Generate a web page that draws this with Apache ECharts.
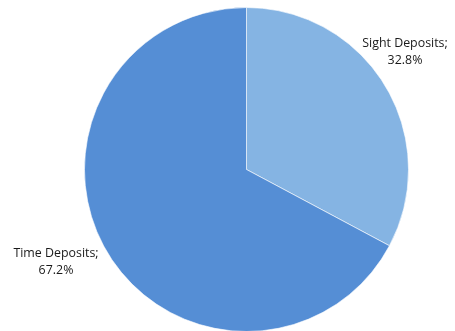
<!DOCTYPE html>
<html><head><meta charset="utf-8">
<script src="https://cdn.jsdelivr.net/npm/echarts@6/dist/echarts.min.js"></script>
<style>html,body{margin:0;padding:0;background:#fff}#c{width:455px;height:331px}</style>
</head><body><div id="c"></div>
<script>
var categories = ['Sight Deposits', 'Time Deposits'];
var values = [32.8, 67.2];
var colors = ['#85B4E3', '#558ED5'];
var labelPos = [[405, 52], [56, 262]];

var chart = echarts.init(document.getElementById('c'), null, {renderer: 'canvas'});
chart.setOption({
  animation: false,
  series: [{
    type: 'pie',
    center: [246.5, 169.5],
    radius: [0, 162],
    startAngle: 90,
    clockwise: true,
    avoidLabelOverlap: false,
    data: categories.map(function (n, i) {
      return {name: n, value: values[i], itemStyle: {color: colors[i]}};
    }),
    itemStyle: {borderColor: '#ffffff', borderWidth: 0.6},
    label: {
      show: true,
      position: 'outside',
      formatter: function (p) { return p.name + ';\n' + p.value.toFixed(1) + '%'; },
      fontFamily: 'Open Sans',
      fontSize: 12.4,
      lineHeight: 17,
      color: '#1a1a1a',
      align: 'center',
      overflow: 'none',
      width: 120
    },
    labelLine: {show: false},
    labelLayout: function (params) {
      var p = labelPos[params.dataIndex];
      return {x: p[0], y: p[1], align: 'center', verticalAlign: 'middle'};
    }
  }]
});
</script></body></html>
